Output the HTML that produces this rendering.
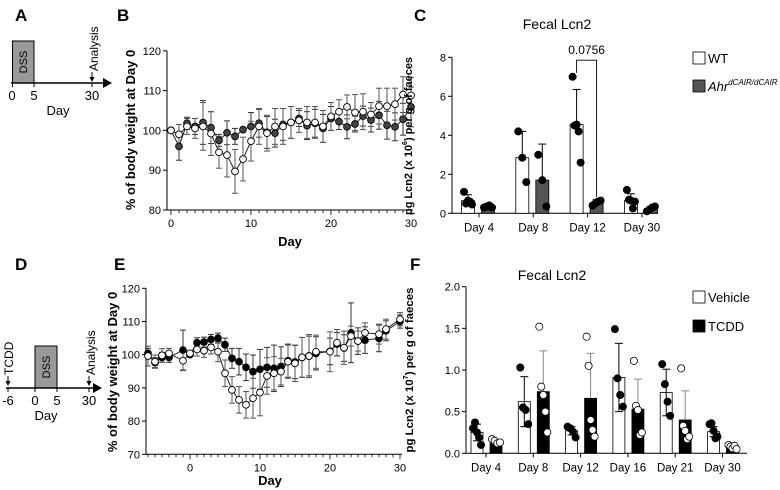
<!DOCTYPE html>
<html><head><meta charset="utf-8">
<style>
html,body{margin:0;padding:0;background:#fff;}
svg{display:block;font-family:"Liberation Sans",Arial,sans-serif;}
</style></head>
<body>
<svg id="fig" width="780" height="490" viewBox="0 0 780 490" xmlns="http://www.w3.org/2000/svg">
<g font-weight="bold" font-size="17" fill="#000">
<text x="15" y="21">A</text>
<text x="117" y="21">B</text>
<text x="414" y="21">C</text>
<text x="15" y="270">D</text>
<text x="114" y="270">E</text>
<text x="410" y="270">F</text>
</g>
<g>
<rect x="12.5" y="41" width="21.5" height="42" fill="#999" stroke="#000" stroke-width="1"/>
<text transform="translate(27,62) rotate(-90)" font-size="11" text-anchor="middle">DSS</text>
<line x1="11" y1="83" x2="104" y2="83" stroke="#000" stroke-width="1.5"/>
<polygon points="103,78 112,83 103,88" fill="#000"/>
<line x1="12.5" y1="83" x2="12.5" y2="87" stroke="#000"/>
<line x1="34" y1="83" x2="34" y2="87" stroke="#000"/>
<line x1="92" y1="83" x2="92" y2="87" stroke="#000"/>
<text x="12" y="100" font-size="13" text-anchor="middle">0</text>
<text x="34" y="100" font-size="13" text-anchor="middle">5</text>
<text x="92" y="100" font-size="13" text-anchor="middle">30</text>
<text x="58" y="115" font-size="13" text-anchor="middle">Day</text>
<line x1="92" y1="72" x2="92" y2="80" stroke="#000"/>
<polygon points="89.5,77 94.5,77 92,82" fill="#000"/>
<text transform="translate(98,71) rotate(-90)" font-size="12">Analysis</text>
</g>
<g>
<rect x="35" y="346" width="22" height="42" fill="#999" stroke="#000" stroke-width="1"/>
<text transform="translate(50,367) rotate(-90)" font-size="11" text-anchor="middle">DSS</text>
<line x1="6" y1="388" x2="94" y2="388" stroke="#000" stroke-width="1.5"/>
<polygon points="93,383 102,388 93,393" fill="#000"/>
<line x1="8" y1="388" x2="8" y2="392" stroke="#000"/>
<line x1="35" y1="388" x2="35" y2="392" stroke="#000"/>
<line x1="57" y1="388" x2="57" y2="392" stroke="#000"/>
<line x1="89" y1="388" x2="89" y2="392" stroke="#000"/>
<text x="8" y="405" font-size="13" text-anchor="middle">-6</text>
<text x="35" y="405" font-size="13" text-anchor="middle">0</text>
<text x="57" y="405" font-size="13" text-anchor="middle">5</text>
<text x="89" y="405" font-size="13" text-anchor="middle">30</text>
<text x="46" y="420" font-size="13" text-anchor="middle">Day</text>
<line x1="8" y1="376" x2="8" y2="384" stroke="#000"/>
<polygon points="5.5,381 10.5,381 8,386" fill="#000"/>
<text transform="translate(13,375) rotate(-90)" font-size="12">TCDD</text>
<line x1="89" y1="376" x2="89" y2="384" stroke="#000"/>
<polygon points="86.5,381 91.5,381 89,386" fill="#000"/>
<text transform="translate(95,375) rotate(-90)" font-size="12">Analysis</text>
</g>
<g id="charts"></g>
</svg>
<script>
// ---------- Panel B data ----------
const bDays = [0,1,2,3,4,5,6,7,8,9,10,11,12,13,14,15,16,17,18,19,20,21,22,23,24,25,26,27,28,29,30];
const bWT   = [100,99,101,100.5,101,99.2,94.5,93.8,89.7,92.8,97.3,101,99.3,101,101,102,102.5,102,102,101,103.5,104.7,105.9,104.5,104.7,104,106.1,106.1,106.6,109,108.8];
const bWTerr= [0,2.5,2,2.5,6,5.5,4,5.5,5.5,5.5,5,4.5,4.5,4.5,4.5,4,3,4,4,4,3.5,3,3,4.5,4.5,3,4.5,4.5,4,4.5,4.5];
const bKO   = [100,96,101.8,101,102,100.7,97.5,99.4,98.5,100.2,101,101.8,99.5,99.3,101.5,102,103,101.2,101.8,100.5,103,102.2,100.9,101.6,103.6,102.6,103.8,101.3,100.9,102.8,105.9];
const bKOerr= [0,3.5,1.5,2,5.5,4,1.5,3,2,0.5,3.5,3.5,4,3.5,4,4,2,3.5,3.5,3.5,3,2,3,2,2.5,3,3.5,3.5,3.5,4,5];
const bYTicks = [80,90,100,110,120];
const bXTicks = [0,10,20,30];
// ---------- Panel E data ----------
const eDays = [-6,-5,-4,-3,-1,0,1,2,3,4,5,6,7,8,9,10,11,12,13,14,15,16,17,18,20,21,22,23,24,25,27,28,30];
const eVeh  = [99.6,97.9,99.8,100.4,98.2,100.4,101.6,101.2,102.2,100.9,94.4,89.4,86.4,84.9,86.9,88.6,93.6,94.4,94.9,97.9,97.4,99.2,99.6,100.9,100.9,103.6,102.1,105.6,104.1,106.6,106.2,107.7,110.7];
const eVehErr=[3,2,2,1.5,3,0,2,2,2,3,4,4,4,4,6,7,5.5,5,4,5,5.5,6,6.5,5,6,4,5,3,3,3,3,3,2];
const eTC   = [100.4,97.6,99.2,99.2,101.4,100,103.6,103.8,104.6,105,103,98.9,97.9,96.2,94.9,95.6,96.2,95.9,96.4,98.2,97.8,99.2,99.6,100.4,101,103.2,102,106.6,104.1,104.4,104.9,107.2,110];
const eTCerr= [1.5,1.5,1.5,1.5,6,0,1.5,1.5,1.5,1.5,2,3,4,4,5,6,6,7,6,5,5,6,6,5,4,3.5,4,9,4,4,4,3,2];
const eYTicks = [70,80,90,100,110,120];
const eXTicks = [0,10,20,30];
// ---------- Panel C data ----------
const cGroups = ["Day 4","Day 8","Day 12","Day 30"];
const cWT     = [0.65,2.85,4.55,0.65];
const cWTerr  = [0.3,1.35,1.8,0.35];
const cWTpts  = [[1.1,0.5,0.65,0.6,0.45],[4.2,2.85,1.6],[7.0,4.5,4.55,4.2,2.6],[1.2,0.7,0.65,0.25,0.6]];
const cKO     = [0.35,1.7,0.5,0.25];
const cKOerr  = [0.05,1.85,0.2,0.1];
const cKOpts  = [[0.3,0.35,0.4,0.3],[3.0,1.7,0.35],[0.4,0.5,0.6,0.65],[0.1,0.2,0.3,0.35]];
const cYTicks = [0,2,4,6,8];
// ---------- Panel F data ----------
const fGroups = ["Day 4","Day 8","Day 12","Day 16","Day 21","Day 30"];
const fVeh    = [0.25,0.62,0.27,0.91,0.73,0.26];
const fVehErr = [0.1,0.3,0.05,0.41,0.28,0.06];
const fVehPts = [[0.3,0.37,0.25,0.19,0.1],[1.03,0.55,0.52,0.35],[0.32,0.3,0.26,0.19],[1.49,0.9,0.7,0.56],[1.07,0.83,0.62,0.45],[0.35,0.36,0.27,0.18,0.2]];
const fTC     = [0.12,0.74,0.66,0.53,0.4,0.07];
const fTCerr  = [0.03,0.49,0.54,0.36,0.35,0.03];
const fTCpts  = [[0.17,0.15,0.12,0.13],[1.52,0.8,0.7,0.5,0.25],[1.4,1.05,0.4,0.28,0.2],[1.11,0.57,0.52,0.22,0.25],[1.02,0.33,0.27,0.17,0.2],[0.1,0.08,0.06,0.09,0.05]];
const fYTicks = [0.0,0.5,1.0,1.5,2.0];

const NS="http://www.w3.org/2000/svg";
const root=document.getElementById('charts');
function mk(tag,attrs,parent,text){const e=document.createElementNS(NS,tag);for(const k in attrs)e.setAttribute(k,attrs[k]);if(text!==undefined)e.textContent=text;(parent||root).appendChild(e);return e;}

function lineChart(o){
  const g=mk('g',{});
  
  
  const sx=d=>o.x0+(d-o.d0)*o.px, sy=v=>o.yb-(v-o.vmin)*o.py;
  const ya=mk('line',{x1:o.ax,y1:sy(o.vmax),x2:o.ax,y2:o.yb,stroke:'#000','stroke-width':1},g);
  
  const xa=mk('line',{x1:o.ax,y1:o.yb,x2:sx(o.d1)+2,y2:o.yb,stroke:'#000','stroke-width':1},g);
  
  o.yt.forEach(v=>{mk('line',{x1:o.ax-4,y1:sy(v),x2:o.ax,y2:sy(v),stroke:'#000'},g);
    const t=mk('text',{x:o.ax-6,y:sy(v)+4,'font-size':11,'text-anchor':'end'},g,String(v));
    });
  for(let d=o.d0;d<=o.d1;d++){const big=o.xt.includes(d);mk('line',{x1:sx(d),y1:o.yb,x2:sx(d),y2:o.yb+(big?5:3),stroke:'#000','stroke-width':0.8},g);}
  o.xt.forEach(d=>{const t=mk('text',{x:sx(d),y:o.yb+17,'font-size':11,'text-anchor':'middle'},g,String(d));
    });
  const xl=mk('text',{x:o.xlx,y:o.xly,'font-size':13,'font-weight':'bold','text-anchor':'middle'},g,'Day');
  
  const yl=mk('text',{transform:`translate(${o.ylx},${o.yly}) rotate(-90)`,'font-size':13,'font-weight':'bold','text-anchor':'middle'},g,'% of body weight at Day 0');
  
  o.series.forEach(s=>{
    const sg=mk('g',{},g);
    
    o.days.forEach((d,i)=>{const e=s.err[i];if(!e)return;const x=sx(d);
      mk('line',{x1:x,y1:sy(s.v[i]-e),x2:x,y2:sy(s.v[i]+e),stroke:s.ec,'stroke-width':1},sg);
      mk('line',{x1:x-3,y1:sy(s.v[i]-e),x2:x+3,y2:sy(s.v[i]-e),stroke:s.ec,'stroke-width':1},sg);
      mk('line',{x1:x-3,y1:sy(s.v[i]+e),x2:x+3,y2:sy(s.v[i]+e),stroke:s.ec,'stroke-width':1},sg);});
    mk('polyline',{points:o.days.map((d,i)=>sx(d)+','+sy(s.v[i])).join(' '),fill:'none',stroke:'#222','stroke-width':1},sg);
  });
  o.series.forEach(s=>{
    o.days.forEach((d,i)=>{const c=mk('circle',{cx:sx(d),cy:sy(s.v[i]),r:3.4,fill:s.fill,stroke:'#000','stroke-width':0.9},g);
      });
  });
}

lineChart({name:'panel-b-weight-chart',days:bDays,d0:0,d1:30,x0:171,px:8,ax:167,yb:210,vmin:80,vmax:120,py:3.98,
  yt:bYTicks,xt:bXTicks,xlx:290,xly:246,ylx:135,yly:130,
  series:[{name:'ahr-dcair-series',v:bKO,err:bKOerr,fill:'#444',ec:'#333'},{name:'wt-series',v:bWT,err:bWTerr,fill:'#fff',ec:'#555'}]});
lineChart({name:'panel-e-weight-chart',days:eDays,d0:-6,d1:30,x0:148,px:7,ax:146,yb:454.3,vmin:70,vmax:120,py:3.32,
  yt:eYTicks,xt:eXTicks,xlx:270,xly:485,ylx:117,yly:372,
  series:[{name:'tcdd-series',v:eTC,err:eTCerr,fill:'#000',ec:'#333'},{name:'vehicle-series',v:eVeh,err:eVehErr,fill:'#fff',ec:'#555'}]});

function barChart(o){
  const g=mk('g',{});
  
  
  const sy=v=>o.yb-(v-0)*o.py, gx=i=>o.gx0+i*o.gsp;
  const ya=mk('line',{x1:o.ax,y1:sy(o.vmax),x2:o.ax,y2:o.yb,stroke:'#000'},g);
  
  const xa=mk('line',{x1:o.ax,y1:o.yb,x2:o.xend,y2:o.yb,stroke:'#000'},g);
  
  o.yt.forEach(v=>{mk('line',{x1:o.ax-4,y1:sy(v),x2:o.ax,y2:sy(v),stroke:'#000'},g);
    const t=mk('text',{x:o.ax-6,y:sy(v)+4,'font-size':11,'text-anchor':'end'},g,o.fmt(v));
    });
  o.groups.forEach((lab,i)=>{mk('line',{x1:gx(i),y1:o.yb,x2:gx(i),y2:o.yb+4,stroke:'#000'},g);
    const t=mk('text',{x:gx(i),y:o.yb+18,'font-size':11.5,'text-anchor':'middle'},g,lab);
    });
  o.series.forEach(s=>{
    s.v.forEach((v,i)=>{const cx=gx(i)+s.off;
      const e=s.err[i];
      mk('line',{x1:cx,y1:sy(v),x2:cx,y2:sy(v+e),stroke:s.ec},g);
      mk('line',{x1:cx-4,y1:sy(v+e),x2:cx+4,y2:sy(v+e),stroke:s.ec},g);
      const b=mk('rect',{x:cx-o.bw/2,y:sy(v),width:o.bw,height:o.yb-sy(v),fill:s.fill,stroke:'#000','stroke-width':0.8},g);
      
      if(s.lower){mk('line',{x1:cx,y1:sy(v),x2:cx,y2:sy(v-e),stroke:s.ec},g);mk('line',{x1:cx-4,y1:sy(v-e),x2:cx+4,y2:sy(v-e),stroke:s.ec},g);}
      s.pts[i].forEach((p,j)=>{const n=s.pts[i].length;const jx=cx+(n>1?(j/(n-1)-0.5)*8:0);
        const c=mk('circle',{cx:jx,cy:sy(p),r:3.6,fill:s.dot,stroke:'#000','stroke-width':0.8},g);
        });
    });
  });
  const tt=mk('text',{x:o.tx,y:o.ty,'font-size':14,'text-anchor':'middle'},g,'Fecal Lcn2');
  
  const yl=mk('text',{transform:`translate(${o.ylx},${o.yly}) rotate(-90)`,'font-size':11,'font-weight':'bold','text-anchor':'middle',textLength:o.tl,lengthAdjust:'spacingAndGlyphs'},g);
  
  mk('tspan',{},yl,'pg Lcn2 (x 10');mk('tspan',{'font-size':7,dy:-5},yl,o.exp);mk('tspan',{dy:5},yl,') per g of faeces');
  o.legend.forEach(l=>{const lg=mk('g',{},g);
    
    mk('rect',{x:o.lx,y:l.y,width:12,height:12,fill:l.fill,stroke:'#000','stroke-width':0.8},lg);
    const t=mk('text',{x:o.lx+15,y:l.y+11,'font-size':13},lg,l.text);
    if(l.sup){t.setAttribute('font-style','italic');mk('tspan',{'font-size':8,dy:-6},t,l.sup);}
  });
  return {g,sy,gx};
}

const C=barChart({name:'panel-c-lcn2-chart',groups:cGroups,gx0:479,gsp:54.3,ax:452,yb:213.3,py:19.5,vmax:8,xend:658,bw:13,
  yt:cYTicks,fmt:v=>String(v),tx:557,ty:29,ylx:412,yly:136,tl:158,exp:'6',lx:693,
  legend:[{name:'legend-wt',y:52,fill:'#fff',text:'WT'},{name:'legend-ahr',y:80,fill:'#555',text:'Ahr',sup:'dCAIR/dCAIR'}],
  series:[{name:'wt',v:cWT,err:cWTerr,pts:cWTpts,off:-11,fill:'#fff',dot:'#000',ec:'#000'},
          {name:'ahr-dcair',v:cKO,err:cKOerr,pts:cKOpts,off:9,fill:'#555',dot:'#000',ec:'#000'}]});
(function(){const x1=C.gx(2)-11,x2=C.gx(2)+9,y=C.sy(7.85);
  const br=mk('polyline',{points:`${x1},${C.sy(7.2)} ${x1},${y} ${x2},${y} ${x2},${C.sy(0.85)}`,fill:'none',stroke:'#000','stroke-width':0.9},C.g);
  
  const t=mk('text',{x:(x1+x2)/2,y:y-6,'font-size':12,'text-anchor':'middle'},C.g,'0.0756');
  })();

barChart({name:'panel-f-lcn2-chart',groups:fGroups,gx0:486,gsp:47.3,ax:466,yb:453.3,py:83.3,vmax:2,xend:747,bw:12,
  yt:fYTicks,fmt:v=>v.toFixed(1),tx:552,ty:280,ylx:413,yly:370,tl:165,exp:'7',lx:693,
  legend:[{name:'legend-vehicle',y:291,fill:'#fff',text:'Vehicle'},{name:'legend-tcdd',y:320,fill:'#000',text:'TCDD'}],
  series:[{name:'vehicle',v:fVeh,err:fVehErr,pts:fVehPts,off:-9,fill:'#fff',dot:'#000',ec:'#000',lower:true},
          {name:'tcdd',v:fTC,err:fTCerr,pts:fTCpts,off:10,fill:'#000',dot:'#fff',ec:'#888'}]});
</script>
</body></html>
